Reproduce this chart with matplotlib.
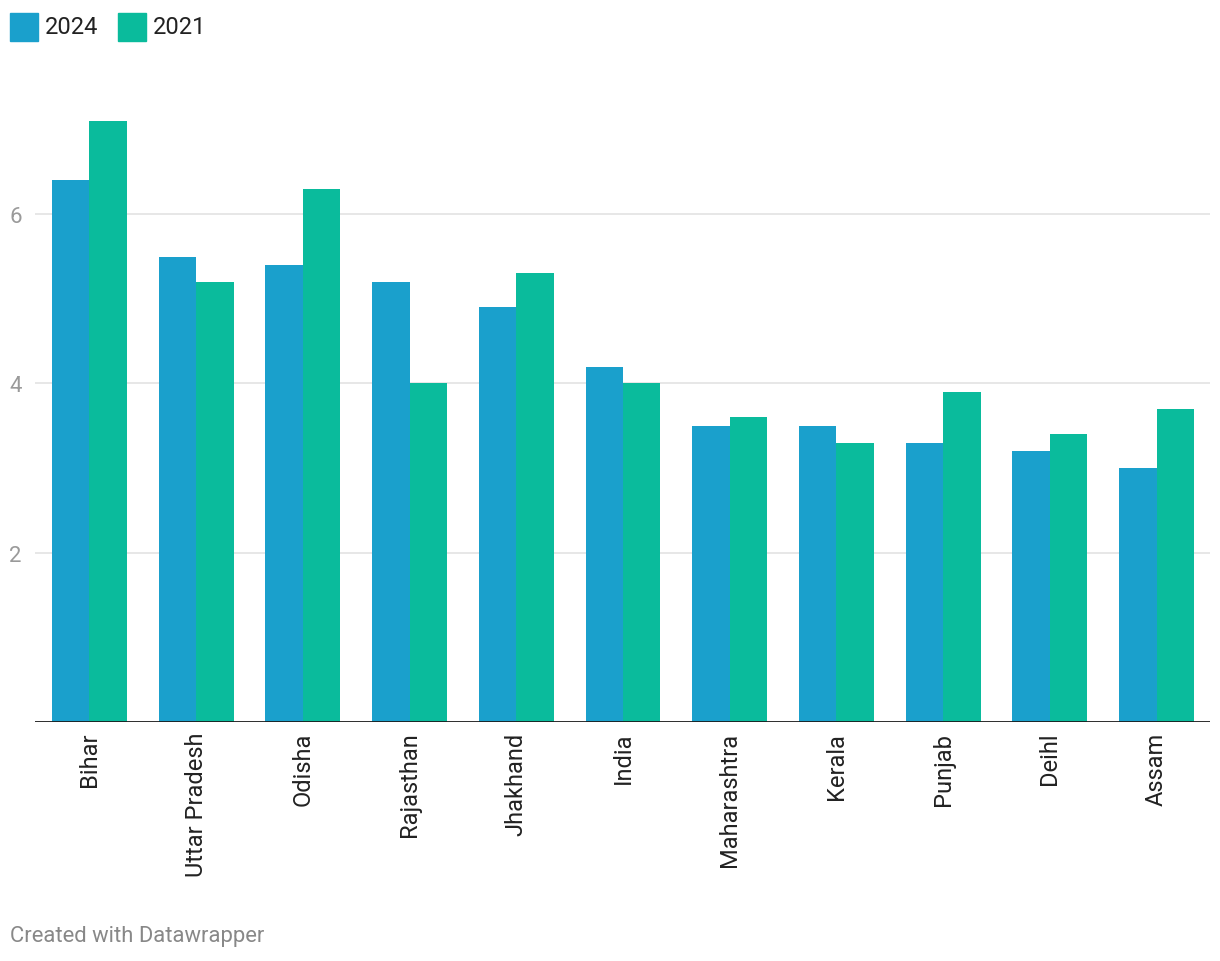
import matplotlib
matplotlib.use("Agg")
import matplotlib.pyplot as plt
import numpy as np
from matplotlib.patches import Rectangle

plt.rcParams['font.family'] = ['Roboto', 'DejaVu Sans']

categories = ["Bihar", "Uttar Pradesh", "Odisha", "Rajasthan", "Jhakhand", "India",
              "Maharashtra", "Kerala", "Punjab", "Deihl", "Assam"]
values_2024 = [6.4, 5.5, 5.4, 5.2, 4.9, 4.2, 3.5, 3.5, 3.3, 3.2, 3.0]
values_2021 = [7.1, 5.2, 6.3, 4.0, 5.3, 4.0, 3.6, 3.3, 3.9, 3.4, 3.7]
series_labels = ["2024", "2021"]
yticks = [2, 4, 6]

c2024 = "#1aa0cc"
c2021 = "#0abb9c"

W, H = 1220, 962
fig = plt.figure(figsize=(W / 100, H / 100), dpi=100)
ax = fig.add_axes([35 / W, (H - 723) / H, 1175 / W, (723 - 90) / H])

x = np.arange(len(categories))
bw = 0.351
ax.bar(x - bw / 2, values_2024, width=bw, color=c2024, linewidth=0, zorder=2)
ax.bar(x + bw / 2, values_2021, width=bw, color=c2021, linewidth=0, zorder=2)

ax.set_xlim(-0.51, 10.5)
ax.set_ylim(0, 7.48)

for t in yticks:
    ax.axhline(t, color="#e3e3e3", linewidth=1.2, zorder=1)
ax.axhline(0, color="#1a1a1a", linewidth=2, zorder=3)

ax.set_yticks(yticks)
ax.set_yticklabels([str(t) for t in yticks], color="#9a9a9a", fontsize=16)
ax.tick_params(axis='y', length=0, pad=0)
for lab in ax.get_yticklabels():
    lab.set_horizontalalignment('left')
    lab.set_x(-0.022)

ax.set_xticks(x)
ax.set_xticklabels(categories, rotation=90, fontsize=17, color="#222222")
ax.tick_params(axis='x', length=0, pad=7)

for s in ax.spines.values():
    s.set_visible(False)

# Legend
fig.patches.append(Rectangle((10 / W, (H - 42) / H), 28 / W, 28 / H,
                             transform=fig.transFigure, color=c2024, figure=fig))
fig.text(45 / W, (H - 27) / H, series_labels[0], fontsize=17, color="#222222", va='center')
fig.patches.append(Rectangle((118 / W, (H - 42) / H), 28 / W, 28 / H,
                             transform=fig.transFigure, color=c2021, figure=fig))
fig.text(153 / W, (H - 27) / H, series_labels[1], fontsize=17, color="#222222", va='center')

fig.text(10 / W, (H - 937) / H, "Created with Datawrapper", fontsize=15.8, color="#888888", va='center')

fig.savefig("out.png", dpi=100, facecolor="white")
